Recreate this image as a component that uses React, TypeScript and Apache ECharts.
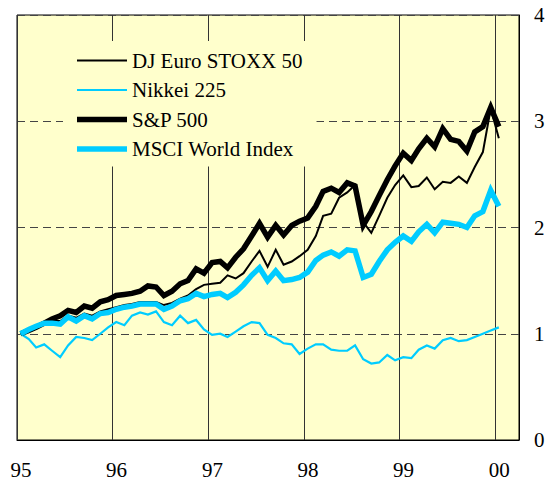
import React, { useEffect, useRef } from "react";
import * as echarts from "echarts";

const dates = [
  "1995-01-15", "1995-02-15", "1995-03-15", "1995-04-15", "1995-05-15", "1995-06-15",
  "1995-07-15", "1995-08-15", "1995-09-15", "1995-10-15", "1995-11-15", "1995-12-15",
  "1996-01-15", "1996-02-15", "1996-03-15", "1996-04-15", "1996-05-15", "1996-06-15",
  "1996-07-15", "1996-08-15", "1996-09-15", "1996-10-15", "1996-11-15", "1996-12-15",
  "1997-01-15", "1997-02-15", "1997-03-15", "1997-04-15", "1997-05-15", "1997-06-15",
  "1997-07-15", "1997-08-15", "1997-09-15", "1997-10-15", "1997-11-15", "1997-12-15",
  "1998-01-15", "1998-02-15", "1998-03-15", "1998-04-15", "1998-05-15", "1998-06-15",
  "1998-07-15", "1998-08-15", "1998-09-15", "1998-10-15", "1998-11-15", "1998-12-15",
  "1999-01-15", "1999-02-15", "1999-03-15", "1999-04-15", "1999-05-15", "1999-06-15",
  "1999-07-15", "1999-08-15", "1999-09-15", "1999-10-15", "1999-11-15", "1999-12-15",
  "2000-01-15",
];

const euroStoxx50 = [
  1.0, 1.03, 1.06, 1.1, 1.12, 1.12, 1.17, 1.15, 1.19, 1.17, 1.21, 1.23,
  1.25, 1.27, 1.28, 1.3, 1.3, 1.3, 1.27, 1.29, 1.33, 1.36, 1.42, 1.46,
  1.47, 1.48, 1.55, 1.52, 1.57, 1.68, 1.78, 1.63, 1.79, 1.65, 1.68, 1.73,
  1.79, 1.92, 2.11, 2.13, 2.28, 2.33, 2.4, 2.05, 1.95, 2.11, 2.28, 2.4,
  2.49, 2.38, 2.39, 2.47, 2.36, 2.43, 2.42, 2.48, 2.42, 2.57, 2.71, 3.12,
  2.84,
];

const nikkei225 = [
  1.0, 0.95, 0.87, 0.9, 0.84, 0.78, 0.89, 0.97, 0.96, 0.94, 1.0, 1.06,
  1.11, 1.08, 1.17, 1.2, 1.18, 1.21, 1.11, 1.08, 1.17, 1.1, 1.13, 1.04,
  0.99, 1.0, 0.97, 1.02, 1.07, 1.11, 1.1, 0.99, 0.96, 0.91, 0.9, 0.81,
  0.86, 0.9, 0.9, 0.85, 0.84, 0.84, 0.89, 0.76, 0.72, 0.73, 0.8, 0.75,
  0.78, 0.77, 0.85, 0.89, 0.86, 0.94, 0.96, 0.93, 0.94, 0.97, 1.0, 1.03,
  1.06,
];

const sp500 = [
  1.0, 1.03, 1.06, 1.1, 1.14, 1.17, 1.22, 1.2, 1.26, 1.24, 1.3, 1.32,
  1.36, 1.37, 1.38, 1.4, 1.45, 1.44, 1.36, 1.4, 1.47, 1.5, 1.61, 1.57,
  1.67, 1.68, 1.62, 1.72, 1.8, 1.92, 2.04, 1.91, 2.02, 1.93, 2.02, 2.06,
  2.09, 2.2, 2.34, 2.37, 2.33, 2.42, 2.39, 2.02, 2.15, 2.3, 2.45, 2.58,
  2.7, 2.63, 2.74, 2.84, 2.76, 2.93, 2.83, 2.81, 2.72, 2.9, 2.95, 3.13,
  2.95,
];

const msciWorld = [
  1.0, 1.04, 1.07, 1.1, 1.1, 1.09, 1.16, 1.12, 1.17, 1.14, 1.19, 1.2,
  1.23, 1.25, 1.26, 1.28, 1.28, 1.28, 1.23, 1.26, 1.31, 1.33, 1.38, 1.35,
  1.37, 1.38, 1.34, 1.39, 1.46, 1.55, 1.62, 1.5, 1.59, 1.5, 1.51, 1.53,
  1.58, 1.69, 1.74, 1.77, 1.73, 1.79, 1.78, 1.53, 1.56, 1.68, 1.79, 1.86,
  1.92, 1.87, 1.96, 2.03, 1.95, 2.05, 2.04, 2.03, 2.0, 2.11, 2.15, 2.35,
  2.2,
];

const seriesNames = ["DJ Euro STOXX 50", "Nikkei 225", "S&P 500", "MSCI World Index"];
const xMin = "1995-01-01";
const xMax = "2000-04-01";

const FONT = "'Liberation Serif', 'Times New Roman', serif";
const CYAN = "#00CCFF";
const BG = "#FFFFCC";
const THIN = 2;
const THICK = 5.5;

function pair(values: number[]) {
  return values.map((v, i) => [dates[i], v]);
}

function barIcon(h: number) {
  return `path://M0,0H50V${h}H0Z`;
}

export default function App() {
  const ref = useRef<HTMLDivElement>(null);

  useEffect(() => {
    if (!ref.current) return;
    const chart = echarts.init(ref.current, undefined, { renderer: "svg" });
    const line = (name: string, values: number[], color: string, width: number, z: number) => ({
      name,
      type: "line",
      data: pair(values),
      symbol: "none",
      z,
      lineStyle: { color, width, join: "miter" },
      itemStyle: { color },
    });
    chart.setOption({
      animation: false,
      textStyle: { fontFamily: FONT },
      grid: {
        left: 17,
        right: 31,
        top: 15,
        bottom: 37,
        show: true,
        backgroundColor: BG,
        borderColor: "#000",
        borderWidth: 1,
      },
      legend: {
        orient: "vertical",
        left: 63,
        top: 41,
        data: [
          { name: seriesNames[0], icon: barIcon(THIN), itemStyle: { color: "#000" } },
          { name: seriesNames[1], icon: barIcon(THIN), itemStyle: { color: CYAN } },
          { name: seriesNames[2], icon: barIcon(THICK), itemStyle: { color: "#000" } },
          { name: seriesNames[3], icon: barIcon(THICK), itemStyle: { color: CYAN } },
        ],
        symbolKeepAspect: true,
        backgroundColor: BG,
        padding: [9, 14, 7, 14],
        itemWidth: 50,
        itemHeight: 14,
        itemGap: 8.5,
        textStyle: { fontFamily: FONT, fontSize: 21, color: "#000", lineHeight: 21 },
      },
      xAxis: {
        type: "time",
        min: xMin,
        max: xMax,
        minInterval: 365 * 24 * 3600 * 1000,
        axisLine: { show: true, lineStyle: { color: "#000", width: 1 } },
        axisTick: { show: false },
        axisLabel: {
          fontFamily: FONT,
          fontSize: 21,
          color: "#000",
          margin: 19,
          padding: [0, 0, 0, 8],
          showMaxLabel: false,
          formatter: (value: number) => String(new Date(value).getFullYear()).slice(-2),
        },
        splitLine: { show: true, lineStyle: { color: "#333", width: 1, type: "solid" } },
      },
      yAxis: {
        type: "value",
        position: "right",
        min: 0,
        max: 4,
        interval: 1,
        axisLine: { show: true, lineStyle: { color: "#000", width: 1 } },
        axisTick: { show: false },
        axisLabel: { fontFamily: FONT, fontSize: 21, color: "#000", margin: 15 },
        splitLine: { show: true, lineStyle: { color: "#444", width: 1, type: [8, 5] } },
      },
      series: [
        line(seriesNames[0], euroStoxx50, "#000", THIN, 2),
        line(seriesNames[1], nikkei225, CYAN, 2.2, 3),
        line(seriesNames[2], sp500, "#000", THICK, 4),
        line(seriesNames[3], msciWorld, CYAN, THICK, 5),
      ],
    });
    return () => chart.dispose();
  }, []);

  return (
    <div
      ref={ref}
      style={{ position: "absolute", left: 0, top: 0, width: 550, height: 480 }}
    />
  );
}
